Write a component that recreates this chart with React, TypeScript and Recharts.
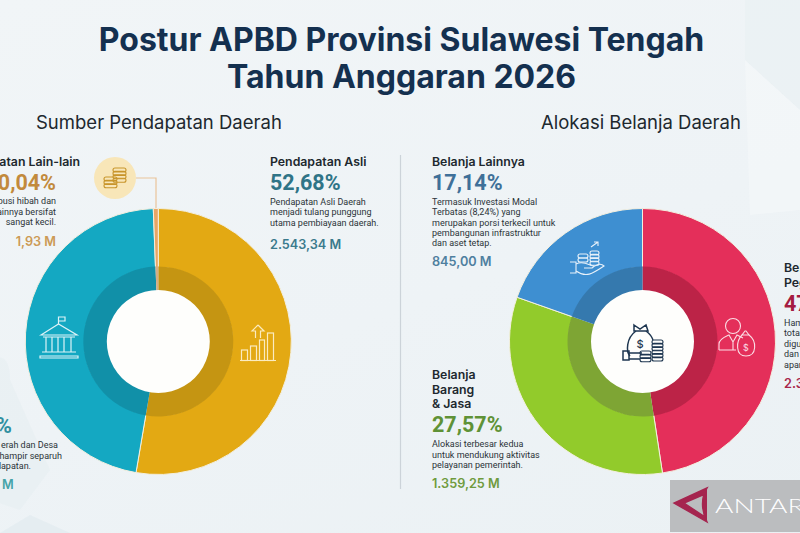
import React from "react";
import { PieChart, Pie, Cell } from "recharts";

// Slice sizes as drawn in the picture (share of the ring, %)
const revenueNames = ["Pendapatan Asli", "Pendapatan Transfer", "Pendapatan Lain-lain"];
const revenueShares = [52.68, 46.72, 0.6];
const revenueColors = ["#E3A913", "#14A8C2", "#E8A566"];
const revenueRingColors = ["#C59512", "#1190A8", "#D3AE86"];

const spendingNames = ["Belanja Pegawai", "Belanja Barang & Jasa", "Belanja Lainnya"];
const spendingShares = [47.6, 32.8, 19.6];
const spendingColors = ["#E42F5A", "#92CB2B", "#3E8FD1"];
const spendingRingColors = ["#BC2347", "#7EA534", "#3579AE"];

const hub = [{ name: "hub", value: 1 }];

const toRows = (names: string[], values: number[]) =>
  names.map((name, i) => ({ name, value: values[i] }));

const FONT = "Inter, 'Noto Sans', sans-serif";
const BODY = "Roboto, Inter, sans-serif";

const ink = "#20282E";

type Block = {
  x: number;
  anchor?: "start" | "end";
  head: [string, number][];
  pct: [string, number];
  pctColor: string;
  desc: [string, number][];
  value: [string, number];
  valueColor: string;
};

const blocks: Block[] = [
  {
    x: 270,
    head: [["Pendapatan Asli", 161]],
    pct: ["52,68%", 182],
    pctColor: "#2F7487",
    desc: [["Pendapatan Asli Daerah", 201.5], ["menjadi tulang punggung", 212], ["utama pembiayaan daerah.", 222.5]],
    value: ["2.543,34 M", 244],
    valueColor: "#3A7A8C",
  },
  {
    x: 80,
    anchor: "end",
    head: [["Pendapatan Lain-lain", 161]],
    pct: ["0,04%", 182],
    pctColor: "#C28A3C",
    desc: [],
    value: ["1,93 M", 241],
    valueColor: "#CC9A55",
  },
  {
    x: 432,
    head: [["Belanja Lainnya", 161]],
    pct: ["17,14%", 182],
    pctColor: "#3F7099",
    desc: [
      ["Termasuk Investasi Modal", 201.5],
      ["Terbatas (8,24%) yang", 212],
      ["merupakan porsi terkecil untuk", 222.5],
      ["pembangunan infrastruktur", 232.5],
      ["dan aset tetap.", 243],
    ],
    value: ["845,00 M", 261],
    valueColor: "#4F7F9F",
  },
  {
    x: 432,
    head: [["Belanja", 374], ["Barang", 389], ["& Jasa", 403]],
    pct: ["27,57%", 424],
    pctColor: "#5F9236",
    desc: [["Alokasi terbesar kedua", 444], ["untuk mendukung aktivitas", 454.5], ["pelayanan pemerintah.", 465]],
    value: ["1.359,25 M", 483],
    valueColor: "#6F9B3E",
  },
  {
    x: 784,
    head: [["Belanja", 267], ["Pegawai", 282]],
    pct: ["47", 303],
    pctColor: "#A51C42",
    desc: [["Hampir", 323], ["total", 333], ["digunakan", 343.5], ["dan", 354], ["aparatur", 364.5]],
    value: ["2.3", 383],
    valueColor: "#A8264B",
  },
];

const otherRevenuePct = "47,28%";
const otherRevenueLines: [string, number, number][] = [
  ["erah dan Desa", 58, 445],
  ["hampir separuh", 62, 455.5],
  ["dapatan.", 31, 466],
];
const lainDesc: [string, number][] = [["Kontribusi hibah dan", 201], ["lainnya bersifat", 212], ["sangat kecil.", 222]];

const Txt = (p: any) => <text dominantBaseline="central" {...p} />;

const BlockView = ({ b }: { b: Block }) => {
  const a = b.anchor ?? "start";
  const bodyX = b.anchor === "end" ? 56 : b.x;
  return (
    <g textAnchor={a}>
      {b.head.map(([t, y]) => (
        <Txt key={t} x={b.x} y={y} fontFamily={FONT} fontWeight={600} fontSize={12.3} fill={ink}>{t}</Txt>
      ))}
      <Txt x={bodyX} y={b.pct[1]} fontFamily={BODY} fontWeight={700} fontSize={21.5} fill={b.pctColor}>{b.pct[0]}</Txt>
      {b.desc.map(([t, y]) => (
        <Txt key={t} x={b.x} y={y} fontFamily={BODY} fontSize={9} fill="#2B3338">{t}</Txt>
      ))}
      <Txt x={bodyX} y={b.value[1]} fontFamily={FONT} fontWeight={600} fontSize={12.7} fill={b.valueColor}>{b.value[0]}</Txt>
    </g>
  );
};

const Coins = ({ x, y, w = 12, n = 3, stroke }: { x: number; y: number; w?: number; n?: number; stroke: string }) => (
  <g fill="none" stroke={stroke} strokeWidth={1.1}>
    {Array.from({ length: n }).map((_, i) => (
      <rect key={i} x={x} y={y + i * 3.4} width={w} height={4} rx={2} />
    ))}
  </g>
);

const Icons = () => (
  <g>
    {/* coin bubble */}
    <circle cx={115} cy={178} r={21} fill="#F8E6B8" />
    <polyline points="136,178 156,178 156,208" fill="none" stroke="#E9C39A" strokeWidth={1.2} />
    <Coins x={113} y={168} w={13} n={4} stroke="#C8952B" />
    <Coins x={104} y={177} w={13} n={3} stroke="#C8952B" />
    {/* bank */}
    <g fill="none" stroke="#DDF3F7" strokeWidth={1.2}>
      <path d="M41 335 L58.5 324 L77 335 Z" />
      <path d="M58.5 324 V317 H65 V321 H58.5" />
      <path d="M43 337 H75 M46 337 V352 M52 337 V352 M58 337 V352 M64 337 V352 M71 337 V352 M42 352 H76 M40 356 H78 V358 H40 Z" />
    </g>
    {/* bars */}
    <g fill="none" stroke="#FBEBC0" strokeWidth={1.2}>
      <path d="M240 360.5 H276" />
      <rect x={241.5} y={350} width={6} height={10.5} />
      <rect x={250.5} y={346} width={6} height={14.5} />
      <rect x={259.5} y={340} width={5} height={20.5} />
      <rect x={267.5} y={333} width={6} height={27.5} />
      <path d="M258 325 L252 331 H255.5 V338 M258 325 L264 331 H260.5 V338" />
    </g>
    {/* hand with coins */}
    <g fill="none" stroke="#E7F1FA" strokeWidth={1.1}>
      <path d="M570 262 H576 V273 H570 M576 264 C584 260 590 266 594 266 M576 271 C586 278 592 274 604 266 C601 263 597 264 592 268 H584" />
      <rect x={578} y={254} width={10} height={4} rx={2} />
      <rect x={578} y={258} width={10} height={4} rx={2} />
      <Coins x={590} y={251} w={9} n={4} stroke="#E7F1FA" />
      <path d="M591 247 L598 242 M594 242 H598 V246" />
    </g>
    {/* person with bag */}
    <g fill="none" stroke="#FBDDE5" strokeWidth={1.1}>
      <circle cx={733} cy={326} r={7.5} />
      <path d="M719 350 V344 C719 339 725 337 729 335 L733 342 L737 335 C739 336 741 337 743 338 M719 350 H736 M733 342 V350" />
      <path d="M746 331 L749 335 H742 L745 331 Z" />
      <path d="M742 335 C736 341 735 356 746 356 C757 356 757 341 749 335" />
    </g>
    <Txt x={746} y={347} textAnchor="middle" fontFamily={FONT} fontSize={9} fill="#FBDDE5">$</Txt>
    {/* money bag */}
    <g fill="none" stroke="#1E3650" strokeWidth={1.5}>
      <path d="M634 325 L640 329 L646 325 L648 331 H634 Z" />
      <path d="M636 331 C626 338 626 352 630 356 M646 331 C650 334 652 337 653 340" />
      <rect x={623} y={351} width={6} height={9} />
      <path d="M629 353 H642 M629 359 H640" />
      <Coins x={652} y={340} w={11} n={6} stroke="#1E3650" />
      <Coins x={640} y={351} w={11} n={3} stroke="#1E3650" />
    </g>
    <Txt x={640} y={344} textAnchor="middle" fontFamily={FONT} fontSize={11} fontWeight={500} fill="#1E3650">$</Txt>
  </g>
);

const Donut = (cx: number, shares: any[], colors: string[], rings: string[]) => [
  <Pie key={`o${cx}`} data={shares} dataKey="value" cx={cx} cy={341.5} outerRadius={133} innerRadius={74}
    startAngle={90} endAngle={-270} stroke="#F3EFDF" strokeWidth={1} isAnimationActive={false} legendType="none">
    {colors.map((c) => <Cell key={c} fill={c} />)}
  </Pie>,
  <Pie key={`i${cx}`} data={shares} dataKey="value" cx={cx} cy={341.5} outerRadius={75} innerRadius={50}
    startAngle={90} endAngle={-270} stroke="none" isAnimationActive={false} legendType="none">
    {rings.map((c) => <Cell key={c} fill={c} />)}
  </Pie>,
  <Pie key={`h${cx}`} data={hub} dataKey="value" cx={cx} cy={341.5} outerRadius={51.5} innerRadius={0}
    stroke="none" fill="#FEFEFC" isAnimationActive={false} legendType="none" />,
];

export default function App() {
  return (
    <div style={{ position: "fixed", left: 0, top: 0, width: 800, height: 533, overflow: "hidden",
      background: "linear-gradient(160deg,#F1F5F7 0%,#EEF3F6 55%,#EBF1F4 100%)" }}>
      <svg width={800} height={533} style={{ position: "absolute", left: 0, top: 0 }}>
        <path d="M745 0 L800 0 L800 110 L745 60 Z" fill="#E8F0F1" opacity={0.5} />
        <path d="M745 60 L800 110 L800 210 L750 215 Z" fill="#F5F8FA" opacity={0.6} />
        <path d="M-10 360 Q10 350 10 380 L50 470 L20 510 L-10 500 Z" fill="#E6EFF1" opacity={0.6} />
        <path d="M0 533 L30 515 L70 533 Z" fill="#E0E9EF" opacity={0.6} />
      </svg>
      <div style={{ position: "absolute", left: 0, top: 0 }}>
        <PieChart width={800} height={533} margin={{ top: 0, right: 0, bottom: 0, left: 0 }}>
          {Donut(158.3, toRows(revenueNames, revenueShares), revenueColors, revenueRingColors)}
          {Donut(642.5, toRows(spendingNames, spendingShares), spendingColors, spendingRingColors)}
        </PieChart>
      </div>
      <svg width={800} height={533} style={{ position: "absolute", left: 0, top: 0 }}>
        <Txt x={401.5} y={39} textAnchor="middle" fontFamily={FONT} fontWeight={700} fontSize={32} fill="#14304F">Postur APBD Provinsi Sulawesi Tengah</Txt>
        <Txt x={401.5} y={76} textAnchor="middle" fontFamily={FONT} fontWeight={700} fontSize={32} fill="#14304F">Tahun Anggaran 2026</Txt>
        <Txt x={36} y={122} fontFamily={FONT} fontSize={18.5} fill={ink}>Sumber Pendapatan Daerah</Txt>
        <Txt x={541} y={122} fontFamily={FONT} fontSize={18.5} fill={ink}>Alokasi Belanja Daerah</Txt>
        <line x1={400.5} y1={155} x2={400.5} y2={489} stroke="#CCD3D9" strokeWidth={1.2} />

        {blocks.map((b) => <BlockView key={b.head[0][0]} b={b} />)}
        <g textAnchor="end">
          {lainDesc.map(([t, y]) => (
            <Txt key={t} x={56} y={y} fontFamily={BODY} fontSize={9} fill="#2B3338">{t}</Txt>
          ))}
        </g>
        <Txt x={12} y={425} textAnchor="end" fontFamily={BODY} fontWeight={700} fontSize={21.5} fill="#2F8FA0">{otherRevenuePct}</Txt>
        <g textAnchor="end">
          {otherRevenueLines.map(([t, x, y]) => (
            <Txt key={t} x={x} y={y} fontFamily={BODY} fontSize={9} fill="#2B3338">{t}</Txt>
          ))}
        </g>
        <Txt x={2} y={484} fontFamily={FONT} fontWeight={600} fontSize={12.7} fill="#45A3A8">M</Txt>

        <Icons />

        {/* watermark */}
        <rect x={670} y={480} width={130} height={52} fill="#B6B8BA" opacity={0.92} />
        <path d="M707 488 L674 503 L707 522 L705 517 L684 503 L703 495 Z M707 488 C701 497 701 510 707 522" fill="#A5254F" stroke="#A5254F" strokeWidth={1.4} />
        <Txt x={715} y={505} fontFamily="Lato, sans-serif" fontWeight={300} fontSize={20} textLength={108} lengthAdjust="spacingAndGlyphs" fill="#FFFFFF">ANTARA</Txt>
      </svg>
    </div>
  );
}
